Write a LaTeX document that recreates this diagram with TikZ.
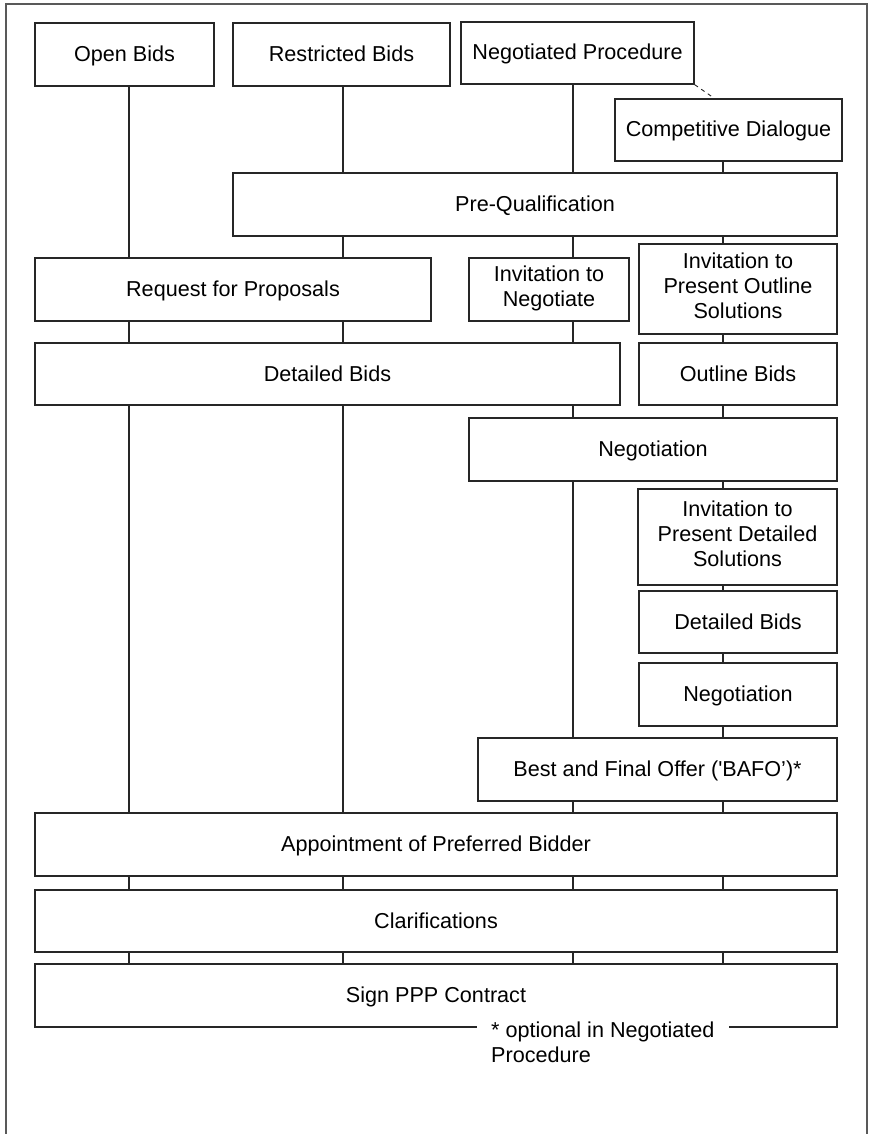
\documentclass[tikz,border=0pt]{standalone}
\usepackage{fontspec}
\setmainfont{Liberation Sans}
\newfontfamily\rawsans{Liberation Sans}
\begin{document}
\begin{tikzpicture}[x=1pt,y=-1pt,
  every node/.style={font=\fontsize{21.6}{25}\selectfont},
  box/.style={draw=black!85, line width=1.3pt, fill=white, inner sep=0pt, align=center,
    execute at begin node={\rule[-6pt]{0pt}{26pt}}, execute at end node={\rule[-6pt]{0pt}{26pt}}},
  tall/.style={execute at begin node={\rule[-6pt]{0pt}{32pt}}},
  conn/.style={draw=black!85, line width=1.3pt},
  frame/.style={draw=black!65, line width=2pt}]
\useasboundingbox (0,0) rectangle (870,1134);
\fill[white] (0,0) rectangle (870,1134);
\draw[frame] (6,1136) -- (6,4) -- (867,4) -- (867,1136);

\coordinate (k1) at (129,0);
\coordinate (k2) at (343,0);
\coordinate (k3) at (573,0);
\coordinate (k4) at (723,0);

\node[box, minimum width=179, minimum height=63] (ob) at (124.5,54.5) {Open Bids};
\node[box, minimum width=217, minimum height=63] (rb) at (341.5,54.5) {Restricted Bids};
\node[box, minimum width=233, minimum height=62] (np) at (577.5,53) {Negotiated Procedure};
\node[box, minimum width=227, minimum height=62] (cd) at (728.5,130) {Competitive Dialogue};
\node[box, minimum width=604, minimum height=63] (pq) at (535,204.5) {Pre-Qualification};
\node[box, minimum width=396, minimum height=63] (rfp) at (233,289.5) {Request for Proposals};
\node[box, minimum width=160, minimum height=63] (itn) at (549,289.5) {Invitation to\\Negotiate};
\node[box, tall, minimum width=198, minimum height=90] (ipos) at (738,289) {Invitation to\\Present Outline\\Solutions};
\node[box, minimum width=585, minimum height=62] (db) at (327.5,374) {Detailed Bids};
\node[box, minimum width=198, minimum height=62] (obids) at (738,374) {Outline Bids};
\node[box, minimum width=368, minimum height=63] (neg1) at (653,449.5) {Negotiation};
\node[box, tall, minimum width=199, minimum height=96] (ipds) at (737.5,537) {Invitation to\\Present Detailed\\Solutions};
\node[box, minimum width=198, minimum height=62] (db2) at (738,622) {Detailed Bids};
\node[box, minimum width=198, minimum height=63] (neg2) at (738,694.5) {Negotiation};
\node[box, minimum width=359, minimum height=63] (bafo) at (657.5,769.5) {Best and Final Offer ({\rawsans '}BAFO’)*};
\node[box, minimum width=802, minimum height=63] (app) at (436,844.5) {Appointment of Preferred Bidder};
\node[box, minimum width=802, minimum height=62] (clar) at (436,921) {Clarifications};
\node[box, minimum width=802, minimum height=63] (sign) at (436,995.5) {Sign PPP Contract};

\node[fill=white, align=left, inner xsep=14pt, inner ysep=2pt, anchor=north west] (note) at (477,1020) {* optional in Negotiated\\Procedure};

\foreach \a/\b in {ob/rfp, rfp/db, db/app, app/clar, clar/sign}
  \draw[conn] (k1 |- \a.south) -- (k1 |- \b.north);
\foreach \a/\b in {rb/pq, pq/rfp, rfp/db, db/app, app/clar, clar/sign}
  \draw[conn] (k2 |- \a.south) -- (k2 |- \b.north);
\foreach \a/\b in {np/pq, pq/itn, itn/db, db/neg1, neg1/bafo, bafo/app, app/clar, clar/sign}
  \draw[conn] (k3 |- \a.south) -- (k3 |- \b.north);
\foreach \a/\b in {cd/pq, pq/ipos, ipos/obids, obids/neg1, neg1/ipds, ipds/db2, db2/neg2, neg2/bafo, bafo/app, app/clar, clar/sign}
  \draw[conn] (k4 |- \a.south) -- (k4 |- \b.north);

\draw[conn, line width=0.9pt, dash pattern=on 4pt off 4pt] (np.south east) -- ([xshift=100pt]cd.north west);
\end{tikzpicture}
\end{document}
